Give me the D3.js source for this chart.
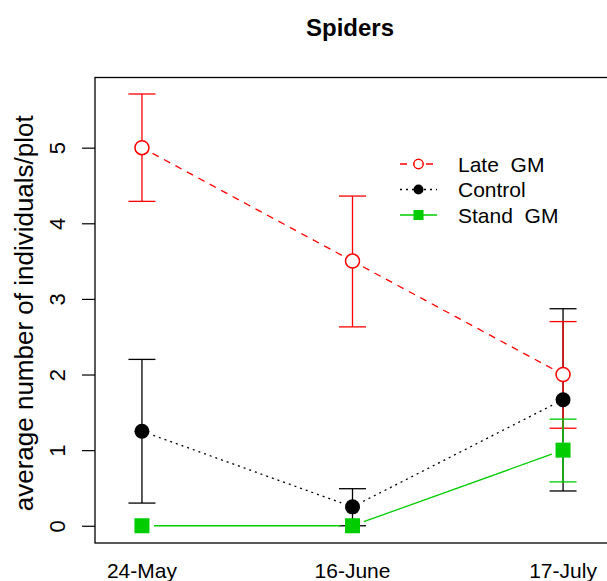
<!DOCTYPE html>
<html>
<head>
<meta charset="utf-8">
<script src="https://cdn.jsdelivr.net/npm/d3@7"></script>
<style>
  body { margin: 0; background: #fff; }
  svg { font-family: "Liberation Sans", Arial, Helvetica, sans-serif; }
</style>
</head>
<body>
<script>
// data
const dates = ['24-May', '16-June', '17-July']
const yTicks = [0, 1, 2, 3, 4, 5]

const lateMean = [5.0, 3.5, 2.0]
const lateLow = [4.29, 2.63, 1.29]
const lateHigh = [5.71, 4.36, 2.70]

const controlMean = [1.25, 0.25, 1.667]
const controlLow = [0.30, 0.0, 0.46]
const controlHigh = [2.20, 0.49, 2.87]

const standMean = [0, 0, 1.0]
const standLow = [0, 0, 0.58]
const standHigh = [0, 0, 1.41]

const width = 607, height = 581
const box = {left: 95, right: 610, top: 77.5, bottom: 543}

const svg = d3.select('body').append('svg')
    .attr('width', width)
    .attr('height', height)

const xScale = d3.scaleLinear()
    .domain([0.777, 3.223])
    .range([box.left, box.right])

const yScale = d3.scaleLinear()
    .domain([-0.228, 5.928])
    .range([box.bottom, box.top])

// title
svg.append('text')
    .attr('x', 350)
    .attr('y', 36)
    .attr('text-anchor', 'middle')
    .style('font-size', '24px')
    .style('font-weight', 'bold')
    .text('Spiders')

// y axis
const yAxis = svg.append('g')
    .attr('transform', 'translate(' + box.left + ',0)')
    .call(d3.axisLeft(yScale).tickValues(yTicks).tickFormat(d3.format('d')).tickSize(13).tickPadding(0))
yAxis.select('.domain').remove()
yAxis.selectAll('line').attr('stroke', '#000').attr('stroke-width', 1.2)
yAxis.selectAll('text')
    .attr('x', null).attr('dy', null)
    .attr('text-anchor', 'middle')
    .attr('fill', '#000')
    .attr('transform', 'translate(' + (65 - box.left) + ',0)rotate(-90)')
    .style('font-size', '22px')
    .style('font-family', '"Liberation Sans", Arial, sans-serif')

svg.append('text')
    .attr('transform', 'translate(33,' + ((box.top + box.bottom) / 2 + 3) + ')rotate(-90)')
    .attr('text-anchor', 'middle')
    .style('font-size', '26px')
    .text('average number of individuals/plot')

// x labels
svg.selectAll('.xlab').data(dates)
    .enter()
    .append('text')
    .attr('class', 'xlab')
    .attr('x', (d, i) => xScale(i + 1))
    .attr('y', 578)
    .attr('text-anchor', 'middle')
    .style('font-size', '21px')
    .text(d => d)

const series = [
  {name: 'Control', mean: controlMean, low: controlLow, high: controlHigh, color: '#000', dash: '2,4', shape: 'dot'},
  {name: 'Late  GM', mean: lateMean, low: lateLow, high: lateHigh, color: '#ff0000', dash: '7,6', shape: 'open'},
  {name: 'Stand  GM', mean: standMean, low: standLow, high: standHigh, color: '#00cc00', dash: null, shape: 'square'}
]

// error bars
series.forEach(s => {
  const g = svg.append('g').attr('stroke', s.color).attr('stroke-width', 1.3)
  s.mean.forEach((m, i) => {
    if (s.high[i] === s.low[i]) return
    const x = xScale(i + 1)
    g.append('line').attr('x1', x).attr('x2', x).attr('y1', yScale(s.low[i])).attr('y2', yScale(s.high[i]))
    g.append('line').attr('x1', x - 13.5).attr('x2', x + 13.5).attr('y1', yScale(s.low[i])).attr('y2', yScale(s.low[i]))
    g.append('line').attr('x1', x - 13.5).attr('x2', x + 13.5).attr('y1', yScale(s.high[i])).attr('y2', yScale(s.high[i]))
  })
})

// connecting lines with gaps at points (type = "b")
const gap = 12
series.forEach(s => {
  for (let i = 0; i < s.mean.length - 1; i++) {
    const x1 = xScale(i + 1), y1 = yScale(s.mean[i])
    const x2 = xScale(i + 2), y2 = yScale(s.mean[i + 1])
    const len = Math.hypot(x2 - x1, y2 - y1)
    const ux = (x2 - x1) / len, uy = (y2 - y1) / len
    svg.append('line')
        .attr('x1', x1 + ux * gap).attr('y1', y1 + uy * gap)
        .attr('x2', x2 - ux * gap).attr('y2', y2 - uy * gap)
        .attr('stroke', s.color)
        .attr('stroke-width', 1.3)
        .attr('stroke-dasharray', s.dash)
  }
})

function drawSymbol(g, shape, color, x, y, scale) {
  const k = scale || 1
  if (shape === 'open') {
    g.append('circle').attr('cx', x).attr('cy', y).attr('r', 7 * k)
        .attr('fill', '#fff').attr('stroke', color).attr('stroke-width', 1.5)
  } else if (shape === 'dot') {
    g.append('circle').attr('cx', x).attr('cy', y).attr('r', 7.5 * k).attr('fill', color)
  } else {
    g.append('rect').attr('x', x - 7.5 * k).attr('y', y - 7.5 * k)
        .attr('width', 15 * k).attr('height', 15 * k).attr('fill', color)
  }
}

// points: late, control, stand
const drawOrder = [series[1], series[0], series[2]]
drawOrder.forEach(s => {
  const g = svg.append('g')
  s.mean.forEach((m, i) => drawSymbol(g, s.shape, s.color, xScale(i + 1), yScale(m)))
})

// box
svg.append('rect')
    .attr('x', box.left).attr('y', box.top)
    .attr('width', box.right - box.left).attr('height', box.bottom - box.top)
    .attr('fill', 'none').attr('stroke', '#000').attr('stroke-width', 1.3)

// legend
const legend = svg.append('g')
drawOrder.forEach((s, i) => {
  const y = 164 + i * 25.5
  legend.append('line')
      .attr('x1', 400).attr('x2', 437).attr('y1', y).attr('y2', y)
      .attr('stroke', s.color).attr('stroke-width', 1.3)
      .attr('stroke-dasharray', s.dash)
  drawSymbol(legend, s.shape, s.color, 418.5, y, 0.67)
  legend.append('text')
      .attr('x', 458).attr('y', y + 7.5)
      .style('font-size', '21px')
      .style('white-space', 'pre')
      .text(s.name)
})
</script>
</body>
</html>
